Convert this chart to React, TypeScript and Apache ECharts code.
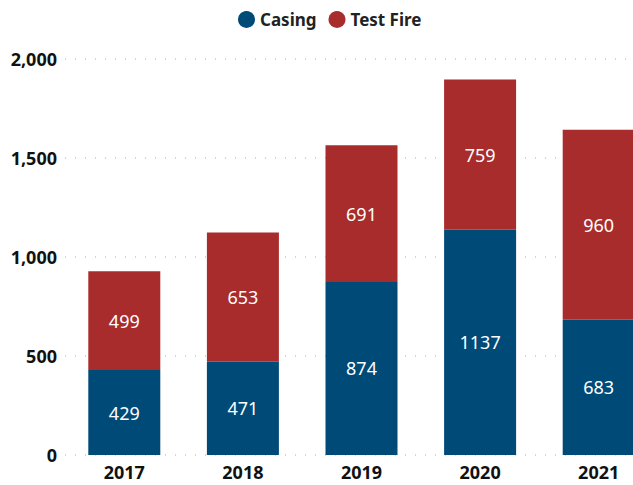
import React, { useEffect, useRef } from "react";
import * as echarts from "echarts";

const years = ["2017", "2018", "2019", "2020", "2021"];
const casing = [429, 471, 874, 1137, 683];
const testFire = [499, 653, 691, 759, 960];

const FONT = "'Noto Sans', 'Open Sans', sans-serif";

export default function App() {
  const ref = useRef<HTMLDivElement>(null);
  useEffect(() => {
    document.body.style.margin = "0";
    const chart = echarts.init(ref.current!, null, { renderer: "svg" });
    const labelStyle = {
      show: true,
      position: "inside" as const,
      color: "#ffffff",
      fontSize: 18,
      fontFamily: FONT,
    };
    chart.setOption({
      animation: false,
      textStyle: { fontFamily: FONT },
      legend: {
        top: 6,
        left: 233,
        icon: "circle",
        itemWidth: 17,
        itemHeight: 17,
        itemGap: 12,
        itemTextGap: 3,
        textStyle: { fontSize: 17, fontWeight: "bold", color: "#222", fontFamily: FONT },
        data: ["Casing", "Test Fire"],
      },
      grid: { left: 65, top: 59, right: 2, height: 396, containLabel: false },
      xAxis: {
        type: "category",
        data: years,
        axisLine: { show: false },
        axisTick: { show: false },
        axisLabel: { fontSize: 18, fontWeight: "bold", color: "#111", margin: 8, fontFamily: FONT },
      },
      yAxis: {
        type: "value",
        min: 0,
        max: 2000,
        interval: 500,
        axisLine: { show: false },
        axisTick: { show: false },
        axisLabel: {
          fontSize: 18,
          fontWeight: "bold",
          color: "#111",
          margin: 8,
          fontFamily: FONT,
          formatter: (v: number) => v.toLocaleString("en-US"),
        },
        splitLine: { lineStyle: { color: "#c8c8c8", type: [1, 9], width: 1.5 } },
      },
      series: [
        {
          name: "Casing",
          type: "bar",
          stack: "total",
          data: casing,
          barWidth: 72,
          itemStyle: { color: "#004A78" },
          label: labelStyle,
        },
        {
          name: "Test Fire",
          type: "bar",
          stack: "total",
          data: testFire,
          barWidth: 72,
          itemStyle: { color: "#A82C2B" },
          label: labelStyle,
        },
      ],
    });
    return () => chart.dispose();
  }, []);
  return (
    <div style={{ width: 633, height: 485, overflow: "hidden", position: "relative" }}>
      <div ref={ref} style={{ width: 660, height: 485 }} />
    </div>
  );
}
